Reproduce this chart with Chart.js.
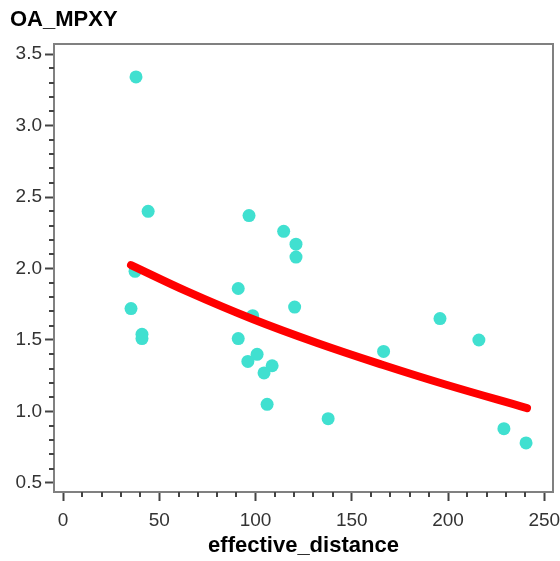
<!DOCTYPE html>
<html>
<head>
<meta charset="utf-8">
<script src="https://cdn.jsdelivr.net/npm/chart.js@4/dist/chart.umd.min.js"></script>
<style>
  html, body { margin: 0; padding: 0; background: #fff; }
</style>
</head>
<body>
<canvas id="chart" width="560" height="561"></canvas>
<script>
// observed points
const distX = [37.9, 44.2, 35.3, 37.4, 41.0, 41.0, 96.6, 114.6, 121.0, 121.0, 91.0, 120.3, 98.5,
  91.0, 100.8, 96.0, 104.4, 108.6, 106.0, 137.7, 166.5, 195.8, 216.0, 229.0, 240.5];
const mpxyY = [3.34, 2.40, 1.72, 1.98, 1.54, 1.51, 2.37, 2.26, 2.17, 2.08, 1.86, 1.73, 1.67,
  1.51, 1.40, 1.35, 1.27, 1.32, 1.05, 0.95, 1.42, 1.65, 1.50, 0.88, 0.78];

// fitted curve
const fitX = [35.3, 64.4, 98.7, 132.0, 166.2, 199.5, 241.0];
const fitY = [2.024, 1.84, 1.645, 1.479, 1.325, 1.185, 1.024];

const FONT = "'Liberation Sans', Arial, sans-serif";

function isMajor(v, step) {
  const r = v / step;
  return Math.abs(r - Math.round(r)) < 1e-6;
}

// frame round the plot + short minor ticks
const frame = {
  id: 'frame',
  beforeDatasetsDraw(chart) {
    const { ctx, chartArea: a, scales: { x, y } } = chart;
    ctx.save();
    ctx.strokeStyle = '#808080';
    ctx.lineWidth = 2;
    ctx.strokeRect(a.left, a.top, a.right - a.left, a.bottom - a.top);

    ctx.strokeStyle = '#444';
    ctx.beginPath();
    x.ticks.forEach(t => {
      if (isMajor(t.value, 50)) return;
      const px = Math.round(x.getPixelForValue(t.value));
      ctx.moveTo(px, a.bottom);
      ctx.lineTo(px, a.bottom + 5);
    });
    y.ticks.forEach(t => {
      if (isMajor(t.value, 0.5)) return;
      const py = Math.round(y.getPixelForValue(t.value));
      ctx.moveTo(a.left, py);
      ctx.lineTo(a.left - 5, py);
    });
    ctx.stroke();
    ctx.restore();
  }
};

new Chart(document.getElementById('chart'), {
  type: 'scatter',
  data: {
    datasets: [
      {
        type: 'line',
        label: 'fit',
        data: fitX.map((v, i) => ({ x: v, y: fitY[i] })),
        borderColor: '#ff0000',
        borderWidth: 8,
        borderCapStyle: 'round',
        pointRadius: 0,
        tension: 0.4,
        fill: false,
        order: 0
      },
      {
        label: 'OA_MPXY',
        data: distX.map((v, i) => ({ x: v, y: mpxyY[i] })),
        backgroundColor: '#40e0d0',
        borderColor: '#40e0d0',
        borderWidth: 0,
        pointRadius: 6.5,
        order: 1
      }
    ]
  },
  options: {
    responsive: false,
    animation: false,
    layout: { padding: { left: 10, right: 7, top: 0, bottom: 0 } },
    plugins: {
      legend: { display: false },
      tooltip: { enabled: false },
      title: {
        display: true,
        text: 'OA_MPXY',
        align: 'start',
        color: '#000',
        font: { family: FONT, size: 22, weight: 'bold' },
        padding: { top: 7, bottom: 10.6 }
      }
    },
    scales: {
      x: {
        type: 'linear',
        min: -4.7,
        max: 254.5,
        afterFit(s) { s.height = 69; s.paddingLeft = 0; s.paddingRight = 0; },
        ticks: {
          stepSize: 10,
          includeBounds: false,
          autoSkip: false,
          maxRotation: 0,
          padding: 8,
          color: '#333',
          font: { family: FONT, size: 19 },
          callback: v => isMajor(v, 50) ? String(Math.round(v)) : ''
        },
        grid: {
          drawOnChartArea: false,
          tickLength: 9,
          tickWidth: 2,
          tickColor: c => isMajor(c.tick.value, 50) ? '#444' : 'rgba(0,0,0,0)'
        },
        border: { display: false },
        title: {
          display: true,
          text: 'effective_distance',
          color: '#000',
          font: { family: FONT, size: 22, weight: 'bold' },
          padding: { top: 0, bottom: 2 }
        }
      },
      y: {
        type: 'linear',
        min: 0.437,
        max: 3.57,
        afterFit(s) { s.width = 44; s.paddingTop = 0; s.paddingBottom = 0; },
        ticks: {
          stepSize: 0.1,
          includeBounds: false,
          autoSkip: false,
          padding: 3,
          color: '#333',
          font: { family: FONT, size: 19 },
          callback: v => isMajor(v, 0.5) ? v.toFixed(1) : ''
        },
        grid: {
          drawOnChartArea: false,
          tickLength: 9,
          tickWidth: 2,
          tickColor: c => isMajor(c.tick.value, 0.5) ? '#444' : 'rgba(0,0,0,0)'
        },
        border: { display: false }
      }
    }
  },
  plugins: [frame]
});
</script>
</body>
</html>
